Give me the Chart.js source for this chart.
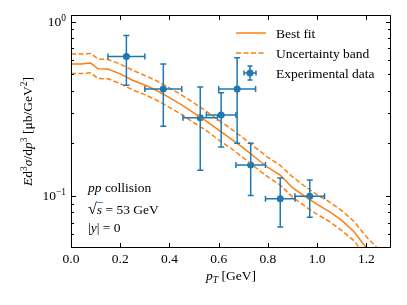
<!DOCTYPE html>
<html>
<head>
<meta charset="utf-8">
<script src="https://cdn.jsdelivr.net/npm/chart.js@4.4.0/dist/chart.umd.min.js"></script>
<style>
html, body { margin: 0; padding: 0; background: #fff; }
</style>
</head>
<body>
<canvas id="grafico" width="407" height="305"></canvas>
<script>
// fit curve and band
var fitX   = [0, 0.04, 0.08, 0.11, 0.15, 0.2, 0.25, 0.3, 0.35, 0.4, 0.45, 0.5, 0.55, 0.6, 0.65, 0.7, 0.75, 0.8, 0.85, 0.9, 0.95, 1.0, 1.05, 1.1, 1.15, 1.2, 1.25, 1.3];
var fitY   = [0.571, 0.570, 0.577, 0.535, 0.533, 0.500, 0.460, 0.432, 0.400, 0.365, 0.332, 0.298, 0.268, 0.238, 0.212, 0.188, 0.165, 0.145, 0.131, 0.111, 0.099, 0.089, 0.081, 0.072, 0.062, 0.050, 0.043, 0.037];
var upperY = [0.650, 0.650, 0.655, 0.610, 0.605, 0.570, 0.525, 0.490, 0.455, 0.415, 0.378, 0.340, 0.305, 0.271, 0.242, 0.214, 0.188, 0.166, 0.149, 0.128, 0.113, 0.101, 0.092, 0.082, 0.071, 0.058, 0.049, 0.042];
var lowerY = [0.503, 0.502, 0.508, 0.470, 0.469, 0.440, 0.405, 0.380, 0.352, 0.321, 0.292, 0.262, 0.236, 0.209, 0.187, 0.165, 0.145, 0.128, 0.115, 0.098, 0.087, 0.078, 0.071, 0.063, 0.055, 0.044, 0.038, 0.033];

// experimental points
var dataX    = [0.225, 0.375, 0.525, 0.61, 0.675, 0.73, 0.85, 0.97];
var dataY    = [0.63, 0.41, 0.28, 0.29, 0.41, 0.15, 0.096, 0.099];
var dataXErr = [0.075, 0.075, 0.07, 0.06, 0.075, 0.06, 0.06, 0.06];
var dataYErr = [0.2, 0.16, 0.14, 0.1, 0.21, 0.05, 0.03, 0.024];

// ticks
var xTicks = [0, 0.2, 0.4, 0.6, 0.8, 1.0, 1.2];
var yMajor = [0.1, 1];
var yMajorExp = ['\u22121', '0'];
var yMinor = [0.06, 0.07, 0.08, 0.09, 0.2, 0.3, 0.4, 0.5, 0.6, 0.7, 0.8, 0.9];

var laranja = '#ff7f0e';
var azul = '#1f77b4';
var serif = '"Liberation Serif", "DejaVu Serif", serif';
var tamTexto = 13.5;

function pares(xs, ys) {
	return xs.map(function (x, i) { return {x: x, y: ys[i]}; });
}

function fonte(tam, italico) {
	return (italico ? 'italic ' : '') + tam + 'px ' + serif;
}

// draws text pieces (italic / superscript / subscript) one after another
function textoRico(ctx, partes, x, y, alinhar) {
	var total = 0;
	partes.forEach(function (p) {
		ctx.font = fonte(p.sup || p.sub ? 9.5 : tamTexto, p.it);
		total += ctx.measureText(p.t).width;
	});
	var cx = x;
	if (alinhar === 'center') cx = x - total / 2;
	if (alinhar === 'right') cx = x - total;
	ctx.textAlign = 'left';
	ctx.textBaseline = 'alphabetic';
	partes.forEach(function (p) {
		ctx.font = fonte(p.sup || p.sub ? 9.5 : tamTexto, p.it);
		var dy = p.sup ? -5.5 : (p.sub ? 3 : 0);
		ctx.fillText(p.t, cx, y + dy);
		cx += ctx.measureText(p.t).width;
	});
	return cx;
}

var eixosMpl = {
	id: 'eixosMpl',
	afterDatasetsDraw: function (chart) {
		var ctx = chart.ctx, sx = chart.scales.x, sy = chart.scales.y;
		ctx.save();
		ctx.strokeStyle = azul;
		ctx.lineWidth = 1.5;
		for (var i = 0; i < dataX.length; i++) {
			var x0 = sx.getPixelForValue(dataX[i] - dataXErr[i]);
			var x1 = sx.getPixelForValue(dataX[i] + dataXErr[i]);
			var y0 = sy.getPixelForValue(dataY[i] - dataYErr[i]);
			var y1 = sy.getPixelForValue(dataY[i] + dataYErr[i]);
			var px = sx.getPixelForValue(dataX[i]);
			var py = sy.getPixelForValue(dataY[i]);
			ctx.beginPath();
			ctx.moveTo(x0, py); ctx.lineTo(x1, py);
			ctx.moveTo(px, y0); ctx.lineTo(px, y1);
			ctx.moveTo(x0, py - 3); ctx.lineTo(x0, py + 3);
			ctx.moveTo(x1, py - 3); ctx.lineTo(x1, py + 3);
			ctx.moveTo(px - 3, y0); ctx.lineTo(px + 3, y0);
			ctx.moveTo(px - 3, y1); ctx.lineTo(px + 3, y1);
			ctx.stroke();
		}
		ctx.restore();
	},
	afterDraw: function (chart) {
		var ctx = chart.ctx, a = chart.chartArea, sx = chart.scales.x, sy = chart.scales.y;
		ctx.save();
		ctx.fillStyle = '#000';
		ctx.strokeStyle = '#000';
		ctx.lineWidth = 1;

		// frame
		ctx.strokeRect(a.left + 0.5, a.top + 0.5, a.right - a.left - 1, a.bottom - a.top - 1);

		// ticks pointing inwards
		ctx.beginPath();
		xTicks.forEach(function (v) {
			var p = Math.round(sx.getPixelForValue(v)) + 0.5;
			ctx.moveTo(p, a.bottom); ctx.lineTo(p, a.bottom - 5);
			ctx.moveTo(p, a.top); ctx.lineTo(p, a.top + 5);
		});
		yMajor.forEach(function (v) {
			var p = Math.round(sy.getPixelForValue(v)) + 0.5;
			ctx.moveTo(a.left, p); ctx.lineTo(a.left + 5, p);
			ctx.moveTo(a.right, p); ctx.lineTo(a.right - 5, p);
		});
		yMinor.forEach(function (v) {
			var p = Math.round(sy.getPixelForValue(v)) + 0.5;
			ctx.moveTo(a.left, p); ctx.lineTo(a.left + 3, p);
			ctx.moveTo(a.right, p); ctx.lineTo(a.right - 3, p);
		});
		ctx.stroke();

		// tick labels
		ctx.font = fonte(tamTexto);
		ctx.textAlign = 'center';
		ctx.textBaseline = 'alphabetic';
		xTicks.forEach(function (v) {
			ctx.fillText(v.toFixed(1), sx.getPixelForValue(v), a.bottom + 15);
		});
		yMajor.forEach(function (v, i) {
			var p = sy.getPixelForValue(v);
			textoRico(ctx, [{t: '10'}, {t: yMajorExp[i], sup: true}], a.left - 5, p + 4.5, 'right');
		});

		// axis titles
		textoRico(ctx, [{t: 'p', it: true}, {t: 'T', it: true, sub: true}, {t: ' [GeV]'}], (a.left + a.right) / 2, 280, 'center');
		ctx.save();
		ctx.translate(32, (a.top + a.bottom) / 2);
		ctx.rotate(-Math.PI / 2);
		textoRico(ctx, [
			{t: 'E', it: true}, {t: 'd'}, {t: '3', sup: true}, {t: '\u03c3', it: true}, {t: '/d'},
			{t: 'p', it: true}, {t: '3', sup: true}, {t: ' [\u03bcb/GeV'}, {t: '2', sup: true}, {t: ']'}
		], 0, 0, 'center');
		ctx.restore();

		// legend
		ctx.strokeStyle = laranja;
		ctx.lineWidth = 1.5;
		ctx.beginPath(); ctx.moveTo(236, 33); ctx.lineTo(266, 33); ctx.stroke();
		ctx.setLineDash([5, 2.5]);
		ctx.beginPath(); ctx.moveTo(236, 53); ctx.lineTo(266, 53); ctx.stroke();
		ctx.setLineDash([]);
		ctx.strokeStyle = azul;
		ctx.fillStyle = azul;
		ctx.beginPath();
		ctx.moveTo(244, 73); ctx.lineTo(256, 73);
		ctx.moveTo(250, 66); ctx.lineTo(250, 80);
		ctx.moveTo(244, 70.5); ctx.lineTo(244, 75.5);
		ctx.moveTo(256, 70.5); ctx.lineTo(256, 75.5);
		ctx.moveTo(247.5, 66); ctx.lineTo(252.5, 66);
		ctx.moveTo(247.5, 80); ctx.lineTo(252.5, 80);
		ctx.stroke();
		ctx.beginPath(); ctx.arc(250, 73, 3.5, 0, 2 * Math.PI); ctx.fill();
		ctx.fillStyle = '#000';
		textoRico(ctx, [{t: 'Best fit'}], 276, 38, 'left');
		textoRico(ctx, [{t: 'Uncertainty band'}], 276, 58, 'left');
		textoRico(ctx, [{t: 'Experimental data'}], 276, 78, 'left');

		// annotation
		textoRico(ctx, [{t: 'pp', it: true}, {t: ' collision'}], 88, 192, 'left');
		ctx.font = fonte(16);
		ctx.fillText('\u221a', 88, 214);
		var sq = ctx.measureText('\u221a').width;
		var fim = textoRico(ctx, [{t: 's', it: true}], 88 + sq, 214, 'left');
		ctx.lineWidth = 0.8;
		ctx.beginPath(); ctx.moveTo(88 + sq - 0.5, 202.5); ctx.lineTo(fim + 1, 202.5); ctx.stroke();
		textoRico(ctx, [{t: ' = 53 GeV'}], fim, 214, 'left');
		textoRico(ctx, [{t: '|'}, {t: 'y', it: true}, {t: '| = 0'}], 88, 232, 'left');
		ctx.restore();
	}
};

var grafico = document.getElementById('grafico').getContext('2d');
var dados = {
	type: 'scatter',
	data: {
		datasets: [{
				label: 'Best fit',
				data: pares(fitX, fitY),
				showLine: true,
				borderColor: laranja,
				borderWidth: 1.5,
				pointRadius: 0
			},
			{
				label: 'Uncertainty band',
				data: pares(fitX, upperY),
				showLine: true,
				borderColor: laranja,
				borderWidth: 1.5,
				borderDash: [5, 2.5],
				pointRadius: 0
			},
			{
				label: 'Uncertainty band (low)',
				data: pares(fitX, lowerY),
				showLine: true,
				borderColor: laranja,
				borderWidth: 1.5,
				borderDash: [5, 2.5],
				pointRadius: 0
			},
			{
				label: 'Experimental data',
				data: pares(dataX, dataY),
				backgroundColor: azul,
				borderWidth: 0,
				pointRadius: 3.5
		}]
	},
	options: {
		responsive: false,
		animation: false,
		layout: { padding: { left: 71, right: 16, top: 15, bottom: 57 } },
		scales: {
			x: { type: 'linear', display: false, min: 0, max: 1.3 },
			y: { type: 'logarithmic', display: false, min: 0.05, max: 1.09 }
		},
		plugins: {
			legend: { display: false },
			tooltip: { enabled: false }
		}
	},
	plugins: [eixosMpl]
};
new Chart(grafico, dados);
</script>
</body>
</html>
